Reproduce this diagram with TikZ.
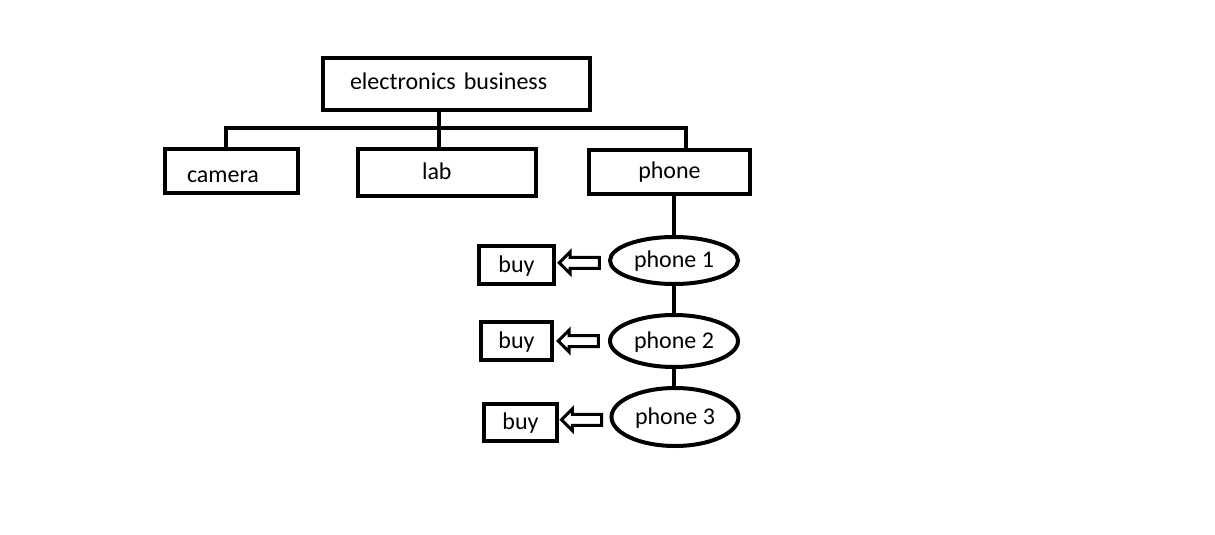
\documentclass[tikz,border=0pt]{standalone}
\usepackage{fontspec}
\setmainfont{Carlito}
\usetikzlibrary{shapes.geometric, shapes.arrows, calc}

\begin{document}
\begin{tikzpicture}[
        x=0.5pt, y=-0.5pt,
        font=\fontsize{12}{14}\selectfont,
        box/.style={draw, line width=2pt, inner ysep=0pt, align=left, text depth=0pt, text height=7pt},
        phonecirc/.style={draw, ellipse, line width=2pt, inner sep=0pt, minimum width=64pt, minimum height=23.5pt, text depth=0pt, text height=7pt}
        ]
    % Define styles
    \tikzstyle{hollow} = [draw, single arrow, shape border rotate=180, line width=1.5pt, inner sep=2pt, single arrow head extend=2.7pt, minimum height=20pt]

    \fill[white] (0,0) rectangle (1215,535);
    \useasboundingbox (0,0) rectangle (1215,535);

    % Define category nodes
    \node[box, text height=6pt, minimum height=26pt, inner xsep=13.5pt, text width=106.5pt] (eb) at (456.5, 84) {electronics business};
    \node[box, text height=11pt, minimum height=22pt, inner xsep=11pt, text width=44.5pt] (cam) at (231.5, 171) {camera};
    \node[box, minimum height=23.5pt, inner xsep=32pt, text width=25pt] (lab) at (447, 172.5) {lab};
    \node[box, text height=6pt, minimum height=22pt, minimum width=80.5pt, align=center] (ph) at (669.5, 172) {phone};

    % Define phone nodes
    \node[phonecirc] (p1) at (674, 260.5) {phone 1};
    \node[phonecirc, minimum height=26pt] (p2) at (674, 341) {phone 2};
    \node[phonecirc, minimum height=29pt, minimum width=63.5pt] (p3) at (675, 417) {phone 3};

    % Define buy nodes
    \node[box, minimum height=19pt, minimum width=37.5pt, align=center] (b1) at (516.5, 265) {buy};
    \node[box, minimum height=19pt, minimum width=35.5pt, align=center] (b2) at (516.5, 341) {buy};
    \node[box, minimum height=18.5pt, minimum width=36.5pt, align=center] (b3) at (520.5, 422.5) {buy};

    % Draw the tree lines
    \coordinate (busL) at (226, 128);
    \coordinate (busM) at (439, 128);
    \coordinate (busR) at (686, 128);
    \draw[line width=2.2pt] (eb.south -| busM) -- (busM);
    \draw[line width=2.2pt] (busL |- cam.north) -- (busL) -- (busR) -- (busR |- ph.north);
    \draw[line width=2.2pt] (busM) -- (busM |- lab.north);

    % Draw edges down the phone list
    \draw[line width=2.2pt] (p1.north |- ph.south) -- (p1.north);
    \draw[line width=2.2pt] (p1.south) -- (p2.north);
    \draw[line width=2.2pt] (p2.south) -- (p2.south |- p3.north);

    % Draw arrows from phones to buy
    \node[hollow] (a1) at ($(b1.east)!0.5!(p1.west)$) {};
    \node[hollow] (a2) at ($(b2.east)!0.5!(p2.west)$) {};
    \node[hollow] (a3) at ($(b3.east)!0.5!(p3.west)$) {};

\end{tikzpicture}
\end{document}
